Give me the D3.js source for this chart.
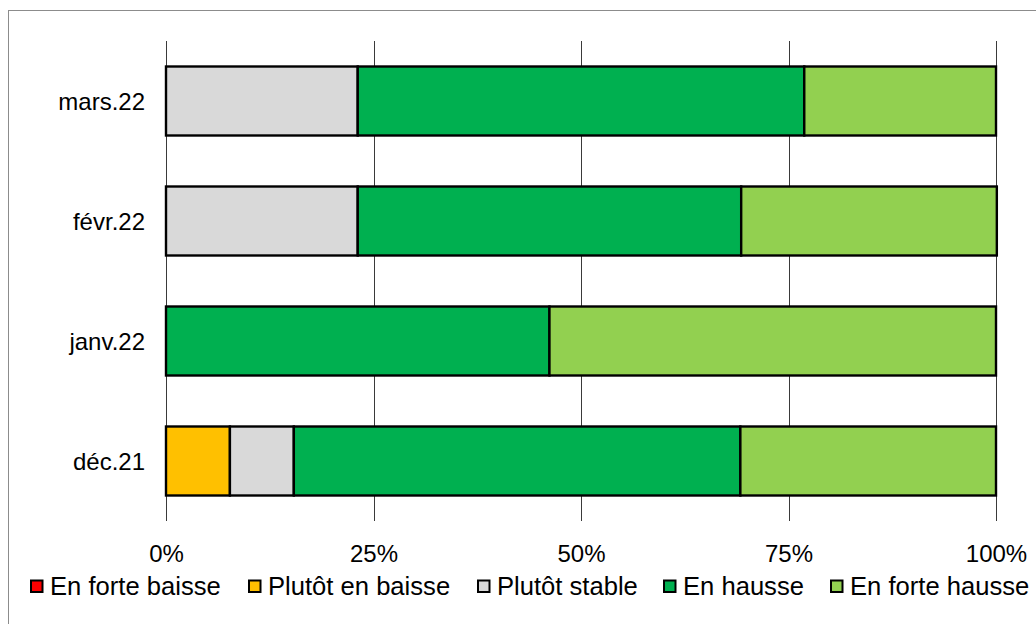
<!DOCTYPE html>
<html>
<head>
<meta charset="utf-8">
<script src="https://cdn.jsdelivr.net/npm/d3@7"></script>
<style>
  body { margin: 0; background: #fff; }
  text { font-family: "Liberation Sans", Arial, sans-serif; fill: #000; }
</style>
</head>
<body>
<div id="wrapper"></div>
<script>
// data (shares in %)
const months = ['mars.22', 'févr.22', 'janv.22', 'déc.21'];
const seriesNames = ['En forte baisse', 'Plutôt en baisse', 'Plutôt stable', 'En hausse', 'En forte hausse'];
const seriesColors = ['#ff0000', '#ffc000', '#d9d9d9', '#00b050', '#92d050'];
const fortBaisse = [0, 0, 0, 0];
const plutotBaisse = [0, 0, 0, 7.7];
const plutotStable = [23.1, 23.1, 0, 7.7];
const enHausse = [53.8, 46.2, 46.2, 53.8];
const fortHausse = [23.1, 30.8, 53.8, 30.8];
const xTicks = [0, 25, 50, 75, 100];

function drawChart() {
    const width = 1036;
    const height = 624;
    const dimensions = {
        width: width,
        height: height,
        margin: { top: 41, right: 40, bottom: 103, left: 166 },
    };
    dimensions.boundedWidth = dimensions.width - dimensions.margin.left - dimensions.margin.right;
    dimensions.boundedHeight = dimensions.height - dimensions.margin.top - dimensions.margin.bottom;

    const table = months.map((m, i) => ({
        month: m,
        'En forte baisse': fortBaisse[i],
        'Plutôt en baisse': plutotBaisse[i],
        'Plutôt stable': plutotStable[i],
        'En hausse': enHausse[i],
        'En forte hausse': fortHausse[i],
    }));
    const stacked = d3.stack().keys(seriesNames)(table);

    const svg = d3.select('#wrapper')
        .append('svg')
        .attr('width', dimensions.width)
        .attr('height', dimensions.height);

    // outer frame (right/bottom edges fall outside the picture)
    svg.append('rect')
        .attr('x', 8.5)
        .attr('y', 10.5)
        .attr('width', 1100)
        .attr('height', 700)
        .attr('fill', 'none')
        .attr('stroke', '#8c8c8c')
        .attr('stroke-width', 1);

    const bounds = svg.append('g')
        .attr('transform', `translate(${dimensions.margin.left}, ${dimensions.margin.top})`);

    // scales
    const xScale = d3.scaleLinear()
        .domain([0, 100])
        .range([0, dimensions.boundedWidth]);

    const yScale = d3.scaleBand()
        .domain(months)
        .range([0, dimensions.boundedHeight])
        .paddingInner(0.425)
        .paddingOuter(0.2125);

    const color = d3.scaleOrdinal().domain(seriesNames).range(seriesColors);

    // vertical gridlines
    bounds.append('g')
        .selectAll('line')
        .data(xTicks)
        .join('line')
        .attr('x1', d => Math.round(xScale(d)) + 0.5)
        .attr('x2', d => Math.round(xScale(d)) + 0.5)
        .attr('y1', 0)
        .attr('y2', dimensions.boundedHeight)
        .attr('stroke', '#3a3a3a')
        .attr('stroke-width', 1);

    // bars
    bounds.append('g')
        .selectAll('g')
        .data(stacked)
        .join('g')
        .attr('fill', d => color(d.key))
        .selectAll('rect')
        .data(d => d.filter(s => s[1] - s[0] > 0))
        .join('rect')
        .attr('x', d => xScale(d[0]))
        .attr('y', d => yScale(d.data.month))
        .attr('width', d => xScale(d[1]) - xScale(d[0]))
        .attr('height', yScale.bandwidth())
        .attr('stroke', '#000')
        .attr('stroke-width', 2.4);

    // x axis labels
    const xAxisGenerator = d3.axisBottom(xScale)
        .tickValues(xTicks)
        .tickFormat(d => d + '%')
        .tickSize(0)
        .tickPadding(20);

    const xAxis = bounds.append('g')
        .attr('transform', `translate(0, ${dimensions.boundedHeight})`)
        .call(xAxisGenerator);
    xAxis.select('.domain').remove();
    xAxis.selectAll('text')
        .attr('font-size', 24)
        .attr('dy', 0)
        .attr('y', 562 - dimensions.margin.top - dimensions.boundedHeight)
        .style('font-family', '"Liberation Sans", Arial, sans-serif');

    // category labels
    bounds.append('g')
        .selectAll('text')
        .data(months)
        .join('text')
        .attr('x', -21)
        .attr('y', d => yScale(d) + yScale.bandwidth() / 2)
        .attr('dy', '0.36em')
        .attr('text-anchor', 'end')
        .attr('font-size', 24)
        .text(d => d);

    // legend
    const legendX = [30, 248, 477, 663, 830];
    const legend = svg.append('g')
        .selectAll('g')
        .data(seriesNames)
        .join('g')
        .attr('transform', (d, i) => `translate(${legendX[i]}, 0)`);

    legend.append('rect')
        .attr('x', 1)
        .attr('y', 580.5)
        .attr('width', 11.5)
        .attr('height', 11.5)
        .attr('fill', d => color(d))
        .attr('stroke', '#000')
        .attr('stroke-width', 2);

    legend.append('text')
        .attr('x', 20)
        .attr('y', 595)
        .attr('font-size', 25.6)
        .text(d => d);
}

drawChart();
</script>
</body>
</html>
